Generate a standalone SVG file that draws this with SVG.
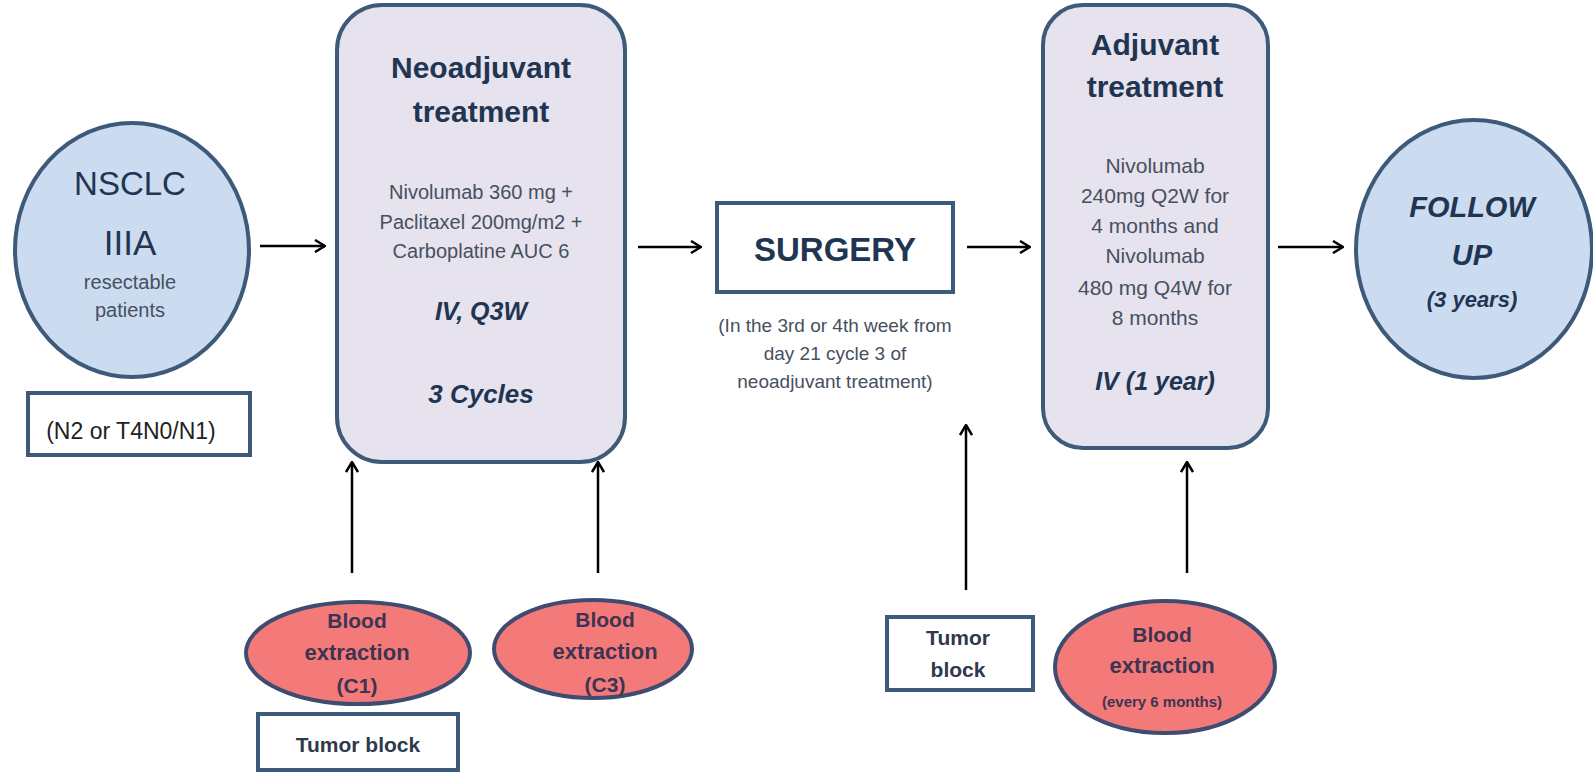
<svg xmlns="http://www.w3.org/2000/svg" width="1593" height="773" viewBox="0 0 1593 773">
<defs>
<style>
.bg{fill:#ffffff}
.blue{fill:#cbdbf0;stroke:#3d5a7a;stroke-width:4}
.lav{fill:#e6e2ee;stroke:#3d5a7a;stroke-width:4}
.red{fill:#f47a7a;stroke:#3d4c70;stroke-width:4}
.box{fill:#ffffff;stroke:#3d5a7a;stroke-width:4}
text{font-family:"Liberation Sans",Arial,sans-serif;text-anchor:middle}
.h{font-weight:bold;fill:#1f3552}
.n{fill:#1f3552}
.hi{font-weight:bold;font-style:italic;fill:#1f3552}
.b{fill:#46505f}
.bt{font-weight:bold;fill:#3d3452}
.tb{font-weight:bold;fill:#2e3a4c}
.conn{stroke:#000000;stroke-width:2.5;fill:none;marker-end:url(#ah)}
</style>
<marker id="ah" viewBox="0 0 12 14" refX="11" refY="7" markerWidth="12" markerHeight="14" markerUnits="userSpaceOnUse" orient="auto">
<path d="M1,1 L11,7 L1,13" fill="none" stroke="#000000" stroke-width="2.5"/>
</marker>
</defs>
<rect class="bg" x="0" y="0" width="1593" height="773"/>

<g id="connectors">
<line class="conn" x1="260" y1="246" x2="325" y2="246"/>
<line class="conn" x1="638" y1="247" x2="701" y2="247"/>
<line class="conn" x1="967" y1="247" x2="1030" y2="247"/>
<line class="conn" x1="1278" y1="247" x2="1343" y2="247"/>
<line class="conn" x1="352" y1="573" x2="352" y2="462"/>
<line class="conn" x1="598" y1="573" x2="598" y2="462"/>
<line class="conn" x1="966" y1="590" x2="966" y2="425"/>
<line class="conn" x1="1187" y1="573" x2="1187" y2="462"/>
</g>

<g id="nsclc">
<ellipse class="blue" cx="132" cy="250" rx="117" ry="127"/>
<text class="n" x="130" y="195" font-size="33">NSCLC</text>
<text class="n" x="130" y="255" font-size="35">IIIA</text>
<text class="b" x="130" y="289" font-size="20">resectable</text>
<text class="b" x="130" y="317" font-size="20">patients</text>
</g>

<g id="stage">
<rect class="box" x="28" y="393" width="222" height="62"/>
<text x="131" y="439" font-size="23" fill="#222222">(N2 or T4N0/N1)</text>
</g>

<g id="neoadjuvant">
<rect class="lav" x="337" y="5" width="288" height="457" rx="45" ry="45"/>
<text class="h" x="481" y="78" font-size="30">Neoadjuvant</text>
<text class="h" x="481" y="122" font-size="30">treatment</text>
<text class="b" x="481" y="199" font-size="20">Nivolumab 360 mg  +</text>
<text class="b" x="481" y="229" font-size="20">Paclitaxel 200mg/m2 +</text>
<text class="b" x="481" y="258" font-size="20">Carboplatine AUC 6</text>
<text class="hi" x="481" y="320" font-size="25">IV, Q3W</text>
<text class="hi" x="481" y="403" font-size="26">3 Cycles</text>
</g>

<g id="surgery">
<rect class="box" x="717" y="203" width="236" height="89"/>
<text class="h" x="835" y="261" font-size="33">SURGERY</text>
<text class="b" x="835" y="332" font-size="19">(In the 3rd or 4th week from</text>
<text class="b" x="835" y="360" font-size="19">day 21 cycle 3  of</text>
<text class="b" x="835" y="388" font-size="19">neoadjuvant treatment)</text>
</g>

<g id="adjuvant">
<rect class="lav" x="1043" y="5" width="225" height="443" rx="40" ry="40"/>
<text class="h" x="1155" y="55" font-size="30">Adjuvant</text>
<text class="h" x="1155" y="97" font-size="30">treatment</text>
<text class="b" x="1155" y="173" font-size="21">Nivolumab</text>
<text class="b" x="1155" y="203" font-size="21">240mg Q2W for</text>
<text class="b" x="1155" y="233" font-size="21">4 months and</text>
<text class="b" x="1155" y="263" font-size="21">Nivolumab</text>
<text class="b" x="1155" y="295" font-size="21">480 mg Q4W for</text>
<text class="b" x="1155" y="325" font-size="21">8 months</text>
<text class="hi" x="1155" y="390" font-size="25">IV (1 year)</text>
</g>

<g id="followup">
<ellipse class="blue" cx="1474" cy="249" rx="118" ry="129"/>
<text class="hi" x="1472" y="217" font-size="29">FOLLOW</text>
<text class="hi" x="1472" y="265" font-size="29">UP</text>
<text class="hi" x="1472" y="307" font-size="22">(3 years)</text>
</g>

<g id="blood-c1">
<ellipse class="red" cx="358" cy="653" rx="112" ry="51"/>
<text class="bt" x="357" y="628" font-size="21">Blood</text>
<text class="bt" x="357" y="660" font-size="22">extraction</text>
<text class="bt" x="357" y="693" font-size="21">(C1)</text>
</g>

<g id="blood-c3">
<ellipse class="red" cx="593" cy="649" rx="99" ry="49"/>
<text class="bt" x="605" y="627" font-size="21">Blood</text>
<text class="bt" x="605" y="659" font-size="22">extraction</text>
<text class="bt" x="605" y="692" font-size="21">(C3)</text>
</g>

<g id="tumor-block-1">
<rect class="box" x="258" y="714" width="200" height="56"/>
<text class="tb" x="358" y="752" font-size="21">Tumor block</text>
</g>

<g id="tumor-block-2">
<rect class="box" x="887" y="617" width="146" height="73"/>
<text class="tb" x="958" y="645" font-size="21">Tumor</text>
<text class="tb" x="958" y="677" font-size="21">block</text>
</g>

<g id="blood-adjuvant">
<ellipse class="red" cx="1165" cy="667" rx="110" ry="66"/>
<text class="bt" x="1162" y="642" font-size="21">Blood</text>
<text class="bt" x="1162" y="673" font-size="22">extraction</text>
<text class="bt" x="1162" y="707" font-size="15">(every 6 months)</text>
</g>
</svg>
